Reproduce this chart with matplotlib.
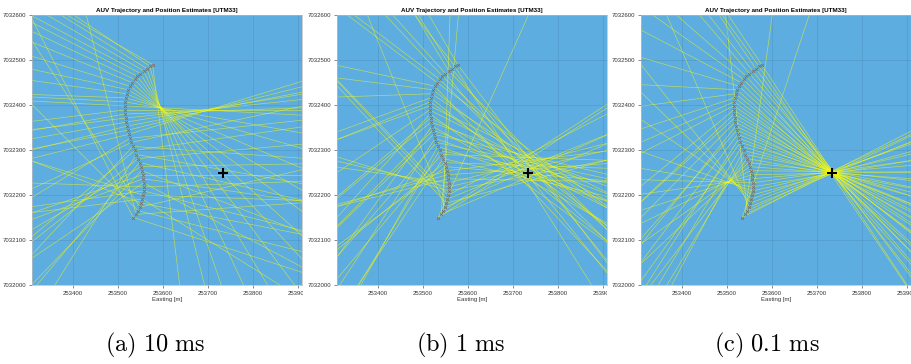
import matplotlib
matplotlib.use('Agg')
import matplotlib.pyplot as plt
import numpy as np
from matplotlib.collections import LineCollection
from matplotlib.transforms import Bbox, TransformedBbox

# AUV track (UTM33, metres)
east = [253535, 253541, 253546, 253550, 253553, 253555, 253557, 253558, 253558, 253558,
        253557, 253556, 253554, 253552, 253549, 253546, 253542, 253538, 253534, 253531,
        253528, 253525, 253523, 253521, 253519, 253518, 253517, 253516, 253516, 253517,
        253518, 253520, 253523, 253527, 253532, 253538, 253544, 253551, 253558, 253565,
        253572, 253578]
north = [7032150, 7032157, 7032165, 7032173, 7032182, 7032191, 7032200, 7032209, 7032218, 7032227,
         7032236, 7032245, 7032254, 7032263, 7032272, 7032281, 7032290, 7032299, 7032308, 7032317,
         7032326, 7032335, 7032344, 7032353, 7032362, 7032371, 7032380, 7032389, 7032398, 7032407,
         7032416, 7032425, 7032434, 7032442, 7032450, 7032457, 7032464, 7032470, 7032476, 7032481,
         7032486, 7032490]

# transponder position
target_east = 253735
target_north = 7032250

# estimated bearings (deg, from east) per track sample: direct and mirrored (ambiguous) solution
bearing_10ms = [-18, 4, -14, 13, -11, -32, -2, -14, 2, -28, -8, 0, -21, 1, -13, 5, -10, 8, -4, 12, 6,
                17, 14, 11, 9, 6, 2, 0, -3, -10, -16, -23, -30, -36, -42, -47, -53, -59, -65, -71,
                -76, -83]
mirror_10ms = [117, 104, 135, 123, 159, -173, 163, -172, 178, -146, -160, -161, -134, -150, -130,
               -142, -122, -140, -133, -155, -149, -166, -169, -166, -170, -173, -170, -173, 177,
               177, 178, 172, 168, 163, 158, 155, 153, 152, 150, 148, 146, 150]

bearing_1ms = [33, 23, 33, 24, 15, 22, 27, 11, 13, 14, -1, 4, 7, -5, -2, -13, -2, -11, -18, -12,
               -20, -13, -20, -29, -20, -27, -36, -27, -26, -35, -39, -33, -38, -47, -36, -44, -43,
               -51, -45, -51, -58, -53]
mirror_1ms = [66, 85, 88, 112, 133, 133, 134, 163, 167, 172, -166, -165, -162, -144, -141, -124,
              -130, -121, -119, -131, -123, -136, -135, -126, -141, -140, -132, -146, -160, -158,
              -160, -178, 173, 168, 143, 143, 133, 132, 121, 122, 128, 120]

bearing_01ms = [27.1, 25.3, 25.0, 22.0, 20.7, 19.0, 15.3, 13.1, 9.4, 8.0, 4.8, 1.1, -0.6, -4.3,
                -6.3, -10.2, -11.1, -14.0, -16.4, -17.4, -20.9, -21.8, -23.4, -26.1, -26.5, -29.2,
                -30.5, -33.0, -33.4, -36.1, -37.3, -38.5, -41.8, -42.3, -44.8, -45.9, -48.8, -49.3,
                -52.0, -53.3, -56.1, -56.6]
mirror_01ms = [71.7, 82.2, 96.3, 113.2, 128.3, 135.9, 145.8, 160.5, 170.6, 178.4, -172.1, -162.2,
               -154.4, -144.7, -136.8, -127.3, -121.0, -118.1, -121.1, -125.7, -122.3, -127.1,
               -131.5, -128.8, -134.6, -138.1, -136.8, -140.6, -153.0, -156.6, -161.6, -172.5,
               177.0, 163.6, 152.3, 144.7, 138.8, 130.5, 128.3, 124.4, 125.5, 124.0]

panels = [
    (bearing_10ms, mirror_10ms, r'$\mathrm{(a)\ 10\ ms}$'),
    (bearing_1ms, mirror_1ms, r'$\mathrm{(b)\ 1\ ms}$'),
    (bearing_01ms, mirror_01ms, r'$\mathrm{(c)\ 0.1\ ms}$'),
]

plt.rcParams['font.family'] = ['Liberation Sans', 'DejaVu Sans']
plt.rcParams['mathtext.fontset'] = 'cm'

W, H = 911, 364
fig = plt.figure(figsize=(W / 100, H / 100), dpi=100)
lefts = [32, 337, 641]   # axes left edge, px
cuts = [303, 607, 911]   # right edge of each sub-image, px
capx = [155, 461, 767]

E = np.array(east, float)
N = np.array(north, float)
ray_len = 2000

for i, (fwd, mir, cap) in enumerate(panels):
    ax = fig.add_axes([lefts[i] / W, (H - 285) / H, 270 / W, 270 / H])
    ax.set_facecolor('#5dade0')

    # each estimate is a half-line starting at the AUV
    segs = []
    for ang in (fwd, mir):
        r = np.radians(ang)
        for x0, y0, rr in zip(E, N, r):
            segs.append([(x0, y0), (x0 + ray_len * np.cos(rr), y0 + ray_len * np.sin(rr))])
    ax.add_collection(LineCollection(segs, colors=[(1, 1, 0, 0.55)], linewidths=0.5, zorder=2))

    ax.plot(E, N, 'x', color='#727272', ms=2.0, mew=0.6, zorder=3)
    ax.plot(target_east, target_north, '+', color='black', ms=7, mew=1.5, zorder=4)

    ax.set_xlim(253310, 253910)
    ax.set_ylim(7032000, 7032600)
    ax.set_xticks(np.arange(253400, 253901, 100))
    ax.set_yticks(np.arange(7032000, 7032601, 100))
    ax.ticklabel_format(useOffset=False, style='plain')
    ax.tick_params(labelsize=4.3, length=2, width=0.4, colors='#333333', pad=2)
    ax.grid(True, color='#1a3a50', alpha=0.15, linewidth=0.5)
    ax.set_axisbelow(True)
    for s in ax.spines.values():
        s.set_color('#bbbbbb')
        s.set_linewidth(0.5)
    ax.set_title('AUV Trajectory and Position Estimates [UTM33]', fontsize=4.5,
                 fontweight='bold', pad=2)
    ax.set_xlabel('Easting [m]', fontsize=4.3, labelpad=1, color='#333333')

    # sub-images are cropped, so the last easting label gets cut
    clip = TransformedBbox(Bbox([[0, 0], [cuts[i] / W, 1]]), fig.transFigure)
    for lbl in ax.get_xticklabels():
        lbl.set_clip_box(clip)
        lbl.set_clip_on(True)

    fig.text(capx[i] / W, (H - 345) / H, cap, fontsize=17.5, ha='center', va='center')

fig.savefig('out.png', dpi=100)
